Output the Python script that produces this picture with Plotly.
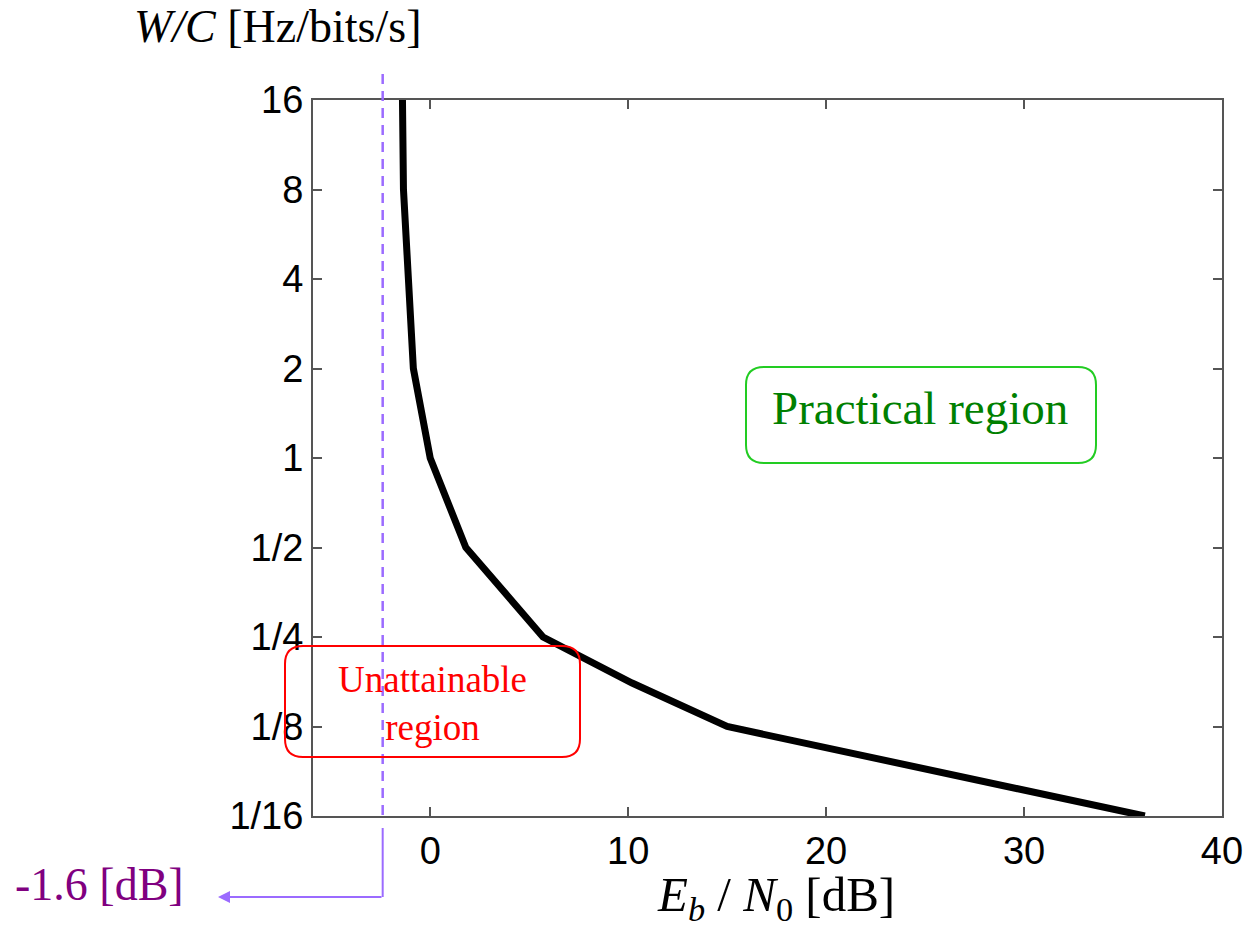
import math
import plotly.graph_objects as go

# ---- data ----
eb_n0_db = [-1.4, -1.35, -1.1, -0.85, 0.0, 1.8, 5.7, 10.2, 15.0, 36.1]
w_over_c = [16, 8, 4, 2, 1, 0.5, 0.25, 0.175, 0.125, 0.0625]

x_ticks = [0, 10, 20, 30, 40]
y_tickvals = [1/16, 1/8, 1/4, 1/2, 1, 2, 4, 8, 16]
y_ticktext = ["1/16", "1/8", "1/4", "1/2", "1", "2", "4", "8", "16"]
shannon_limit_x = -2.4   # where the dashed limit line sits on the picture
x_range = [-5.92, 40]

# ---- layout geometry ----
W, H = 1255, 936
ML, MR, MT, MB = 313, 33, 100, 120
PW = W - ML - MR
PH = H - MT - MB

SERIF = "Liberation Serif, Times New Roman, serif"
SANS = "Liberation Sans, Arial, sans-serif"
AX = "#555555"
PURPLE_LINE = "#9b6bff"


def px(x, y):
    return ((x - ML) / PW, (H - MB - y) / PH)


def rounded_box(x0, y0, x1, y1, r):
    def p(x, y):
        a, b = px(x, y)
        return f"{a:.5f},{b:.5f}"
    return (f"M {p(x0 + r, y0)} L {p(x1 - r, y0)} Q {p(x1, y0)} {p(x1, y0 + r)} "
            f"L {p(x1, y1 - r)} Q {p(x1, y1)} {p(x1 - r, y1)} "
            f"L {p(x0 + r, y1)} Q {p(x0, y1)} {p(x0, y1 - r)} "
            f"L {p(x0, y0 + r)} Q {p(x0, y0)} {p(x0 + r, y0)} Z")


fig = go.Figure()
fig.add_trace(go.Scatter(
    x=eb_n0_db, y=w_over_c, mode="lines",
    line=dict(color="black", width=7),
    showlegend=False, hoverinfo="skip",
))

shapes = []
# dashed Shannon limit line
y_lo = px(0, 815)[1]
y_hi = px(0, 73)[1]
shapes.append(dict(type="line", xref="x", yref="paper",
                   x0=shannon_limit_x, x1=shannon_limit_x, y0=y_lo, y1=y_hi,
                   line=dict(color=PURPLE_LINE, width=2.5, dash="10px,7px")))
# solid leader below the axis
shapes.append(dict(type="line", xref="x", yref="paper",
                   x0=shannon_limit_x, x1=shannon_limit_x,
                   y0=px(0, 828)[1], y1=px(0, 897)[1],
                   line=dict(color=PURPLE_LINE, width=2)))
# region boxes
shapes.append(dict(type="path", xref="paper", yref="paper",
                   path=rounded_box(285, 646, 580, 757, 18),
                   line=dict(color="#ff0000", width=2), fillcolor="rgba(0,0,0,0)"))
shapes.append(dict(type="path", xref="paper", yref="paper",
                   path=rounded_box(746, 367, 1096, 463, 18),
                   line=dict(color="#22cc22", width=2), fillcolor="rgba(0,0,0,0)"))

annotations = []


def add_text(text, cx, cy, size, color, family=SERIF):
    a, b = px(cx, cy)
    annotations.append(dict(text=text, xref="paper", yref="paper", x=a, y=b,
                            xanchor="center", yanchor="middle", showarrow=False,
                            font=dict(family=family, size=size, color=color)))


add_text("<i>W/C</i> [Hz/bits/s]", 277, 27, 46, "black")
add_text("<i>E</i><sub><i>b</i></sub> / <i>N</i><sub>0</sub> [dB]", 776, 897, 49, "black")
add_text("-1.6 [dB]", 99, 884, 46, "#800080")
add_text("Unattainable<br>region", 432, 703, 37, "#ff0000")
add_text("Practical region", 920, 408, 47, "#008000")

# arrow from the leader to the -1.6 dB label
hx, hy = px(218, 897)
annotations.append(dict(text="", xref="paper", yref="paper", x=hx, y=hy,
                        ax=383 - 218, ay=0, showarrow=True, arrowhead=2,
                        arrowsize=1.2, arrowwidth=2, arrowcolor=PURPLE_LINE))

fig.update_layout(
    width=W, height=H,
    margin=dict(l=ML, r=MR, t=MT, b=MB),
    paper_bgcolor="white", plot_bgcolor="white",
    shapes=shapes, annotations=annotations,
    xaxis=dict(range=x_range, tickvals=x_ticks, showgrid=False, zeroline=False,
               showline=True, linecolor=AX, linewidth=2, mirror="ticks",
               ticks="inside", ticklen=9, tickwidth=1.5, tickcolor=AX,
               tickfont=dict(family=SANS, size=38, color="black")),
    yaxis=dict(type="log", range=[math.log10(1/16), math.log10(16)],
               tickvals=y_tickvals, ticktext=y_ticktext,
               showgrid=False, zeroline=False,
               showline=True, linecolor=AX, linewidth=2, mirror="ticks",
               ticks="inside", ticklen=9, tickwidth=1.5, tickcolor=AX,
               tickfont=dict(family=SANS, size=38, color="black")),
)

fig.write_html("out.html",
               config={"displayModeBar": False},
               post_script="document.body.style.margin='0';document.body.style.padding='0';"
                           "document.body.style.overflow='hidden';")
